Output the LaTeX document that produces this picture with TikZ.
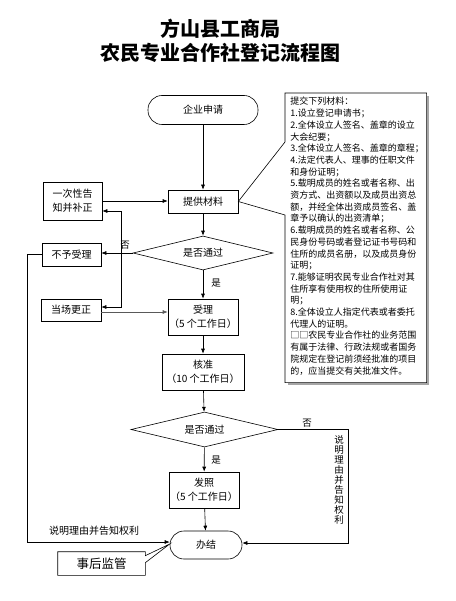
\documentclass[tikz,border=0pt]{standalone}
\usepackage{fontspec}
\setmainfont{Noto Sans CJK SC}
\usetikzlibrary{shapes.geometric,arrows.meta,calc}
\tikzset{
  box/.style={draw, rectangle, inner sep=0pt, align=center, font=\fontsize{10}{14}\selectfont},
  term/.style={draw, rectangle, rounded corners=14pt, inner sep=0pt, font=\fontsize{10}{14}\selectfont},
  dec/.style={draw, diamond, inner sep=0pt, aspect=4, font=\fontsize{10}{14}\selectfont},
  arr/.style={-{Latex[length=5pt,width=4pt]}, line width=0.6pt},
  ln/.style={line width=0.6pt},
  lab/.style={inner sep=0pt, font=\fontsize{9.5}{12}\selectfont},
}
\begin{document}
\begin{tikzpicture}[x=1pt,y=-1pt, line width=0.6pt]
\useasboundingbox (0,0) rectangle (455,601);
% title
\node[font=\fontsize{20}{24}\selectfont\bfseries] (t1) at (220,29) {方山县工商局};
\node[font=\fontsize{20}{24}\selectfont\bfseries] (t2) at (220,53) {农民专业合作社登记流程图};
% nodes
\node[term, minimum width=110pt, minimum height=29pt] (st) at (203,110) {企业申请};
\node[box, minimum width=70pt, minimum height=23pt] (tg) at (203,201.5) {提供材料};
\node[box, minimum width=59pt, minimum height=38pt] (yc) at (72.5,201) {一次性告\\知并补正};
\node[dec, minimum width=140pt, minimum height=34pt] (d1) at (203,253) {是否通过};
\node[box, minimum width=59pt, minimum height=23pt] (by) at (71.5,254.5) {不予受理};
\node[box, minimum width=60pt, minimum height=22pt] (dc) at (71,310) {当场更正};
\node[box, minimum width=70pt, minimum height=36pt] (sl) at (203,317) {受理\\（5 个工作日）};
\node[box, minimum width=82pt, minimum height=36pt] (hz) at (203,372) {核准\\（10 个工作日）};
\node[dec, minimum width=147pt, minimum height=35pt] (d2) at (204.5,429.5) {是否通过};
\node[box, minimum width=70pt, minimum height=36pt] (fz) at (204,490) {发照\\（5 个工作日）};
\node[term, minimum width=72pt, minimum height=28pt] (bj) at (206,545) {办结};
% big callout
\node[inner sep=0pt, minimum width=141pt, minimum height=289pt, anchor=north west] (cl) at (285,93) {};
\draw[gray!70, line width=1.4pt] ($(cl.north east)+(1.5,3)$) -- ($(cl.south east)+(1.5,1.5)$) -- ($(cl.south west)+(3,1.5)$);
\draw[fill=white] (cl.north west) -- (cl.north east) -- (cl.south east) -- (cl.south west)
  -- ($(cl.north west)+(0,122)$) -- (tg.east) -- ($(cl.north west)+(0,49)$) -- cycle;
\node[anchor=north west, inner sep=0pt, text width=137pt, align=left,
  font=\fontsize{9}{11.7}\selectfont] (clt) at (290,97) {提交下列材料：\\
1.设立登记申请书；\\
2.全体设立人签名、盖章的设立\\
大会纪要；\\
3.全体设立人签名、盖章的章程；\\
4.法定代表人、理事的任职文件\\
和身份证明；\\
5.载明成员的姓名或者名称、出\\
资方式、出资额以及成员出资总\\
额，并经全体出资成员签名、盖\\
章予以确认的出资清单；\\
6.载明成员的姓名或者名称、公\\
民身份号码或者登记证书号码和\\
住所的成员名册，以及成员身份\\
证明；\\
7.能够证明农民专业合作社对其\\
住所享有使用权的住所使用证\\
明；\\
8.全体设立人指定代表或者委托\\
代理人的证明。\\
□□农民专业合作社的业务范围\\
有属于法律、行政法规或者国务\\
院规定在登记前须经批准的项目\\
的，应当提交有关批准文件。};
% connectors
\draw[arr] (st) -- (tg);
\draw[arr] (yc.east) -- (yc.east -| tg.west);
\draw[arr] (tg) -- (d1);
\draw[arr] (d1.west) -- (by.east |- d1.west);
\node[lab] (n1) at (125,245) {否};
\coordinate (j) at (121,253);
\draw[arr] (j) |- ([yshift=-10pt]yc.east);
\draw[arr] (j) |- ([yshift=3pt]dc.east);
\draw[arr, black!65] ([yshift=-2pt]dc.east) -- ([yshift=-2pt]dc.east -| sl.west);
\draw[arr] (d1) -- (sl);
\node[lab] (y1) at (216,283) {是};
\draw[arr] (sl) -- (hz);
\draw[arr] (hz) -- (d2);
\draw[arr] (d2) -- (fz);
\node[lab] (y2) at (216,460) {是};
\draw[arr] (fz) -- (bj);
\coordinate (r1) at (348,429.5);
\draw[arr] (d2.east) -- (r1) |- ([yshift=2pt]bj.east);
\node[lab] (n2) at (307,423) {否};
\node[lab, align=center, font=\fontsize{9.5}{10}\selectfont] (v1) at (339,480) {说\\明\\理\\由\\并\\告\\知\\权\\利};
\coordinate (l1) at (27,254.5);
\draw[arr] (by.west) -- (l1) |- ([yshift=3pt]bj.west);
\node[lab, font=\fontsize{10}{12}\selectfont] (h1) at (94,531) {说明理由并告知权利};
% small callout
\node[inner sep=0pt, minimum width=87pt, minimum height=23pt, font=\fontsize{12.5}{14}\selectfont] (sh) at (101.5,563.5) {事后监管};
\draw (sh.north west) -- (sh.north east) -- ($(sh.north east)+(0,4)$) -- ([yshift=1pt]bj.west)
  -- ($(sh.north east)+(0,11)$) -- (sh.south east) -- (sh.south west) -- cycle;
\end{tikzpicture}
\end{document}
